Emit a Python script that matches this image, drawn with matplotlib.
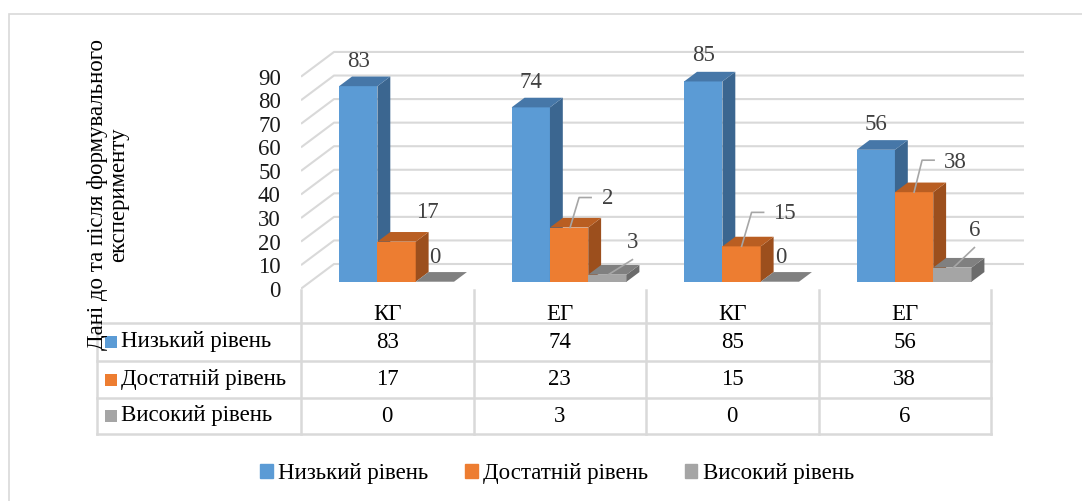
import matplotlib.pyplot as plt
from matplotlib.patches import Polygon, Rectangle, Patch
from matplotlib.lines import Line2D
from matplotlib.transforms import IdentityTransform

plt.rcParams['font.family'] = ['Liberation Serif', 'DejaVu Serif']

groups = ['КГ', 'ЕГ', 'КГ', 'ЕГ']
series = ['Низький рівень', 'Достатній рівень', 'Високий рівень']
low = [83, 74, 85, 56]
mid = [17, 23, 15, 38]
high = [0, 3, 0, 6]
values = [low, mid, high]
# labels as printed on the bars (23 shows up as "2" in the source chart)
bar_labels = [['83', '74', '85', '56'], ['17', '2', '15', '38'], ['0', '3', '0', '6']]
yticks = list(range(0, 100, 10))
ylabel = 'Дані до та після формувального\nексперименту'

front = ['#5b9bd5', '#ed7d31', '#a5a5a5']
side = ['#3b6690', '#9c4f1d', '#6b6b6b']
top = ['#4677a8', '#b95e22', '#808080']
grid_c = '#d9d9d9'
lab_c = '#404040'
FS = 16.5

W, H = 1082, 501
fig = plt.figure(figsize=(W / 100, H / 100), dpi=100)

# chart border
fig.patches.append(Rectangle((9 / W, -0.1), 1.1, (H - 14) / H + 0.1, transform=fig.transFigure,
                             fill=False, ec=grid_c, lw=1.2))

# --- plot area (front plane mapped to data coords) ---
px_cat = 172.5      # px per category
px_val = 2.356      # px per value unit
ax_l, ax_r, ax_b, ax_t = 301, 1030, 288.7, 30
ax = fig.add_axes([ax_l / W, (H - ax_b) / H, (ax_r - ax_l) / W, (ax_b - ax_t) / H])
ax.set_xlim(-0.5, -0.5 + (ax_r - ax_l) / px_cat)
ax.set_ylim(0, (ax_b - ax_t) / px_val)
for s in ax.spines.values():
    s.set_visible(False)
ax.set_xticks([])
ax.set_yticks(yticks)
ax.set_yticklabels([str(t) for t in yticks], fontsize=FS, color='#1a1a1a')
ax.tick_params(axis='y', length=0, pad=14.5)

# depth of the 3d box
wall_dx, wall_dy = 33 / px_cat, 24.7 / px_val
bx0, by0 = 0.283 * wall_dx, 0.283 * wall_dy
bdx, bdy = 0.39 * wall_dx, 0.39 * wall_dy
bw = 38.3 / px_cat

for v in yticks:
    ax.plot([-0.5, -0.5 + wall_dx, 3.5 + wall_dx], [v, v + wall_dy, v + wall_dy],
            color=grid_c, lw=1.5, zorder=1, solid_capstyle='butt')

for s in range(3):
    xs = [i + (s - 1) * bw + bx0 for i in range(len(groups))]
    ax.bar(xs, values[s], bw, bottom=by0, color=front[s], zorder=3 + s)
    for x, v in zip(xs, values[s]):
        r, l = x + bw / 2, x - bw / 2
        if v > 0:
            ax.add_patch(Polygon([(r, by0), (r + bdx, by0 + bdy), (r + bdx, by0 + bdy + v), (r, by0 + v)],
                                 closed=True, fc=side[s], ec='none', zorder=3 + s))
        ax.add_patch(Polygon([(l, by0 + v), (r, by0 + v), (r + bdx, by0 + v + bdy), (l + bdx, by0 + v + bdy)],
                             closed=True, fc=top[s], ec='none', zorder=3 + s))

# data labels: offsets in pixels from the top-front centre of each bar
label_offsets = [[(0, 25), (0, 25), (0, 26), (0, 25)],
                 [(31, 29), (39, 29), (43, 33), (41, 30)],
                 [(0, 24), (25, 32), (1, 24), (22, 37)]]
leaders = {(1, 1): [(1, 0), (10, 30), (22, 30)],
           (1, 2): [(0, 0), (10, 34), (22, 34)],
           (1, 3): [(0, 0), (8, 32), (20, 32)],
           (2, 1): [(1, 0), (25, 15)],
           (2, 3): [(1, 0), (22, 20)]}

for s in range(3):
    for i, v in enumerate(values[s]):
        xc = i + (s - 1) * bw + bx0
        yc = by0 + v
        ox, oy = label_offsets[s][i]
        ax.annotate(bar_labels[s][i], xy=(xc, yc), xytext=(ox, oy), textcoords='offset pixels',
                    ha='center', va='center', fontsize=FS, color=lab_c, zorder=10)
        if (s, i) in leaders:
            px, py = ax.transData.transform((xc, yc))
            pts = leaders[(s, i)]
            ax.add_line(Line2D([px + p[0] for p in pts], [py + p[1] for p in pts],
                               transform=IdentityTransform(), color='#a6a6a6', lw=1.2, zorder=9))

# --- data table ---
tx0, tx1, ty0, ty1 = 96.6, 991, 290, 434
tab = fig.add_axes([tx0 / W, (H - ty1) / H, (tx1 - tx0) / W, (ty1 - ty0) / H])
tleft = 3.5 - (tx1 - tx0) / px_cat
tab.set_xlim(tleft, 3.5)
tab.set_ylim(ty1 - ty0, 0)
tab.axis('off')
row_edges = [0, 33, 71, 108, 144]
for y in row_edges[1:]:
    tab.plot([tleft, 3.5], [y, y], color=grid_c, lw=1.8, clip_on=False)
tab.plot([tleft, tleft], [row_edges[1], row_edges[-1]], color=grid_c, lw=1.8, clip_on=False)
for k in range(len(groups) + 1):
    tab.plot([k - 0.5, k - 0.5], [0, row_edges[-1]], color=grid_c, lw=1.8, clip_on=False)
for i, g in enumerate(groups):
    tab.text(i, 24, g, ha='center', va='center', fontsize=FS)
for s in range(3):
    yc = (row_edges[s + 1] + row_edges[s + 2]) / 2
    tab.plot([tleft + (110.5 - tx0) / px_cat], [yc], marker='s', ms=8.3, color=front[s], mew=0)
    tab.text(tleft + (121 - tx0) / px_cat, yc, series[s], ha='left', va='center', fontsize=FS)
    for i, v in enumerate(values[s]):
        tab.text(i, yc, str(v), ha='center', va='center', fontsize=FS)

fig.text(108 / W, (H - 195) / H, ylabel, rotation=90, ha='center', va='center',
         fontsize=FS, multialignment='center', linespacing=1.05)

handles = [Patch(color=c) for c in front]
fig.legend(handles, series, loc='center', bbox_to_anchor=(557 / W, (H - 474) / H), ncol=3,
           frameon=False, fontsize=FS, handlelength=0.55, handleheight=0.55,
           handletextpad=0.23, columnspacing=1.6)

fig.savefig('out.png', dpi=100)
